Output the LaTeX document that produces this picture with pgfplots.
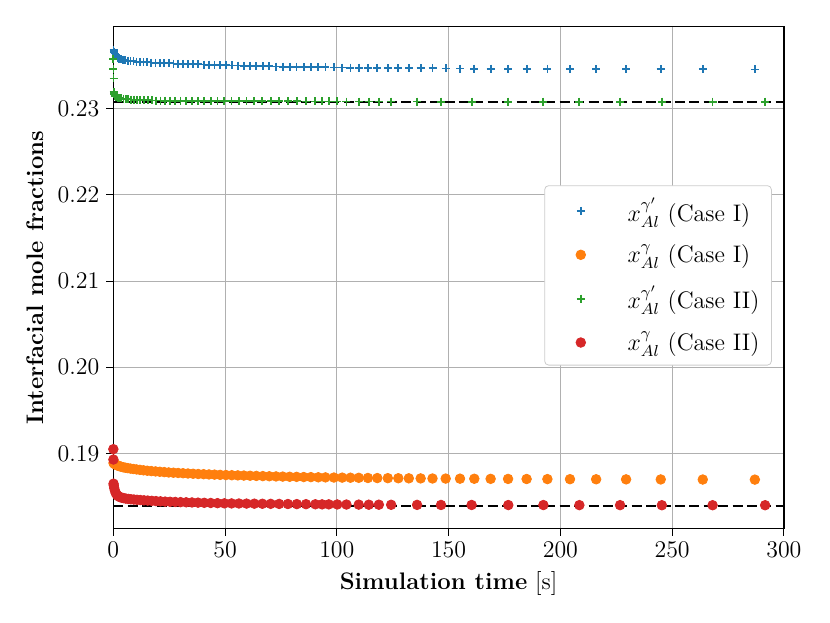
\documentclass[border=0pt]{standalone}
\usepackage{pgfplots}
\pgfplotsset{compat=1.18}
\definecolor{c0}{HTML}{1F77B4}
\definecolor{c1}{HTML}{FF7F0E}
\definecolor{c2}{HTML}{2CA02C}
\definecolor{c3}{HTML}{D62728}
\definecolor{gridc}{HTML}{B0B0B0}
\pgfplotsset{myleg/.style={legend image code/.code={\path (0cm,0cm) (1.22cm,0cm); \draw[##1] plot coordinates {(0.48cm,0cm)};}}}
\begin{document}
\begin{tikzpicture}
\useasboundingbox (-56.65bp,-47.25bp) rectangle (358.35bp,264.25bp);
\begin{axis}[
  at={(0,0)}, anchor=south west,
  scale only axis, width=335.3bp, height=250.9bp,
  xmin=0, xmax=300, ymin=0.1813, ymax=0.2395,
  xtick={0,50,100,150,200,250,300},
  ytick={0.19,0.20,0.21,0.22,0.23},
  yticklabel style={/pgf/number format/.cd, fixed, fixed zerofill, precision=2},
  scaled y ticks=false,
  tick align=outside, major tick length=3.5bp,
  tick style={black, line width=0.5bp},
  xtick pos=bottom, ytick pos=left,
  axis line style={line width=0.6bp},
  grid=major, major grid style={gridc, line width=0.5bp},
  tick label style={font=\large},
  label style={font=\large},
  xlabel={\textbf{Simulation time} [s]},
  ylabel={\textbf{Interfacial mole fractions}},
  legend style={at={(0.982,0.684)}, anchor=north east, draw=black!20, rounded corners=2bp,
    fill=white, font=\large,
    row sep=6bp, inner xsep=4bp, inner ysep=4bp},
  legend cell align=left,
]
\addplot[only marks, mark=+, color=c0, mark size=2bp, line width=0.9bp, myleg] coordinates {
(0.1,0.2368) (0.3,0.2366) (0.6,0.2364) (1.0,0.2362) (1.5,0.23605) (2.0,0.2359) (2.7,0.2358) (3.5,0.23572) (4.4,0.23565) (5.4,0.2356) (6.5,0.23556) (7.7,0.23552) (9.0,0.23548) (10.4,0.23545) (11.9,0.23542) (13.5,0.23539) (15.2,0.23536) (17.0,0.23534) (18.9,0.23531) (20.8,0.23529) (22.8,0.23527) (24.8,0.23525) (26.9,0.23523) (29.0,0.23521) (31.2,0.23519) (33.4,0.23517) (35.7,0.23515) (38.0,0.23513) (40.4,0.23511) (42.8,0.23509) (45.3,0.23507) (47.8,0.23505) (50.4,0.23503) (53.0,0.23501) (55.7,0.23499) (58.4,0.23497) (61.2,0.23495) (64.0,0.23493) (66.9,0.23491) (69.8,0.2349) (72.8,0.23488) (75.8,0.23487) (78.9,0.23485) (82.0,0.23484) (85.2,0.23482) (88.4,0.23481) (91.7,0.2348) (94.9,0.23478) (98.7,0.23477) (102.4,0.23476) (106.1,0.23475) (109.8,0.23474) (113.9,0.23473) (118.1,0.23472) (122.8,0.23471) (127.5,0.2347) (132.2,0.23469) (137.5,0.23468) (142.8,0.23467) (148.7,0.23466) (155.1,0.23465) (161.5,0.23464) (168.8,0.23463) (176.6,0.23462) (184.9,0.23461) (194.2,0.2346) (204.3,0.23459) (216.0,0.23458) (229.4,0.23457) (244.9,0.23456) (263.7,0.23455) (287.0,0.23454)
};
\addlegendentry{$x_{Al}^{\gamma'}$ (Case I)}
\addplot[only marks, mark=*, color=c1, mark size=2.4bp, myleg] coordinates {
(0.1,0.1889) (0.3,0.18885) (0.6,0.1888) (1.0,0.18872) (1.5,0.18865) (2.0,0.1886) (2.7,0.18853) (3.5,0.18847) (4.4,0.1884) (5.4,0.18835) (6.5,0.1883) (7.7,0.18825) (9.0,0.1882) (10.4,0.18815) (11.9,0.1881) (13.5,0.18805) (15.2,0.188) (17.0,0.18796) (18.9,0.18792) (20.8,0.18788) (22.8,0.18784) (24.8,0.1878) (26.9,0.18777) (29.0,0.18774) (31.2,0.18771) (33.4,0.18768) (35.7,0.18765) (38.0,0.18762) (40.4,0.1876) (42.8,0.18757) (45.3,0.18755) (47.8,0.18752) (50.4,0.1875) (53.0,0.18748) (55.7,0.18746) (58.4,0.18744) (61.2,0.18742) (64.0,0.1874) (66.9,0.18738) (69.8,0.18736) (72.8,0.18734) (75.8,0.18732) (78.9,0.1873) (82.0,0.18729) (85.2,0.18727) (88.4,0.18726) (91.7,0.18724) (94.9,0.18723) (98.7,0.18721) (102.4,0.1872) (106.1,0.18719) (109.8,0.18718) (113.9,0.18716) (118.1,0.18715) (122.8,0.18714) (127.5,0.18713) (132.2,0.18712) (137.5,0.18711) (142.8,0.1871) (148.7,0.18709) (155.1,0.18708) (161.5,0.18707) (168.8,0.18706) (176.6,0.18705) (184.9,0.18704) (194.2,0.18703) (204.3,0.18702) (216.0,0.18701) (229.4,0.187) (244.9,0.18699) (263.7,0.18698) (287.0,0.18697)
};
\addlegendentry{$x_{Al}^{\gamma}$ (Case I)}
\addplot[only marks, mark=+, color=c2, mark size=2bp, line width=0.9bp, myleg] coordinates {
(0.02,0.2358) (0.05,0.2346) (0.1,0.2335) (0.2,0.2319) (0.4,0.23165) (0.7,0.2315) (1.1,0.2314) (1.6,0.23133) (2.2,0.23127) (2.9,0.23122) (3.7,0.23118) (4.6,0.23114) (5.6,0.23111) (6.7,0.23108) (7.9,0.23105) (9.2,0.23103) (10.6,0.23101) (12.1,0.23099) (13.7,0.23097) (15.4,0.23096) (17.2,0.23095) (19.1,0.23094) (21.1,0.23093) (23.2,0.23092) (25.4,0.23091) (27.7,0.2309) (30.1,0.2309) (32.6,0.23089) (35.2,0.23089) (37.9,0.23088) (40.7,0.23088) (43.6,0.23087) (46.6,0.23087) (49.7,0.23086) (52.9,0.23086) (56.2,0.23086) (59.6,0.23085) (63.1,0.23085) (66.7,0.23085) (70.4,0.23084) (74.2,0.23084) (78.1,0.23084) (82.1,0.23084) (86.2,0.23083) (90.4,0.23083) (93.4,0.23083) (96.4,0.23083) (100.2,0.23083) (104.3,0.23082) (109.8,0.23082) (114.3,0.23082) (118.8,0.23082) (124.3,0.23082) (135.9,0.23082) (146.6,0.23081) (160.3,0.23081) (176.7,0.23081) (192.4,0.23081) (208.5,0.23081) (226.7,0.2308) (245.4,0.2308) (268.1,0.2308) (291.6,0.2308)
};
\addlegendentry{$x_{Al}^{\gamma'}$ (Case II)}
\addplot[only marks, mark=*, color=c3, mark size=2.4bp, myleg] coordinates {
(0.02,0.1905) (0.05,0.1893) (0.1,0.1865) (0.2,0.1863) (0.4,0.1860) (0.7,0.1857) (1.1,0.1854) (1.6,0.1852) (2.2,0.18505) (2.9,0.18495) (3.7,0.18488) (4.6,0.18482) (5.6,0.18477) (6.7,0.18473) (7.9,0.18469) (9.2,0.18466) (10.6,0.18463) (12.1,0.1846) (13.7,0.18457) (15.4,0.18454) (17.2,0.18451) (19.1,0.18448) (21.1,0.18445) (23.2,0.18442) (25.4,0.1844) (27.7,0.18438) (30.1,0.18436) (32.6,0.18434) (35.2,0.18432) (37.9,0.1843) (40.7,0.18428) (43.6,0.18426) (46.6,0.18424) (49.7,0.18422) (52.9,0.18421) (56.2,0.1842) (59.6,0.18419) (63.1,0.18418) (66.7,0.18417) (70.4,0.18416) (74.2,0.18415) (78.1,0.18414) (82.1,0.18413) (86.2,0.18412) (90.4,0.18411) (93.4,0.1841) (96.4,0.1841) (100.2,0.18409) (104.3,0.18408) (109.8,0.18407) (114.3,0.18406) (118.8,0.18406) (124.3,0.18405) (135.9,0.18404) (146.6,0.18403) (160.3,0.18403) (176.7,0.18402) (192.4,0.18402) (208.5,0.18401) (226.7,0.18401) (245.4,0.184) (268.1,0.184) (291.6,0.184)
};
\addlegendentry{$x_{Al}^{\gamma}$ (Case II)}
\addplot[forget plot, black, dash pattern=on 5bp off 2.2bp, line width=1bp] coordinates {(0,0.23075) (300,0.23075)};
\addplot[forget plot, black, dash pattern=on 5bp off 2.2bp, line width=1bp] coordinates {(0,0.18395) (300,0.18395)};
\end{axis}
\end{tikzpicture}
\end{document}
